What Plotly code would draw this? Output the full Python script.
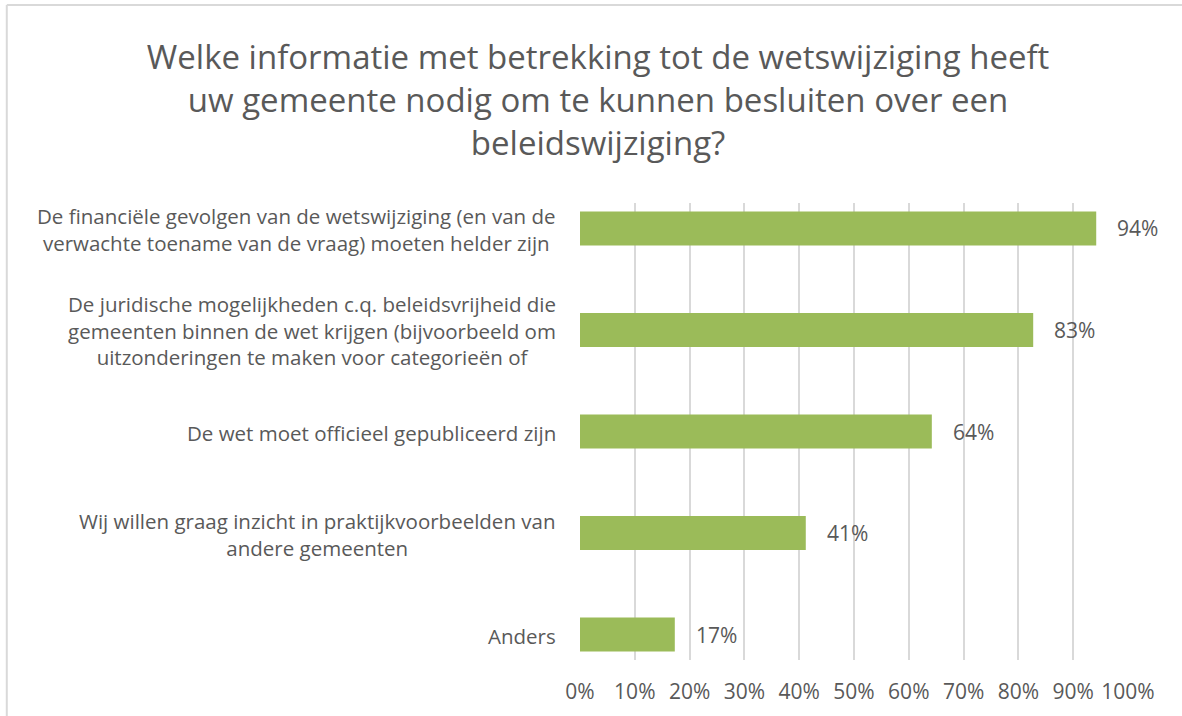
import plotly.graph_objects as go

title_text = ("Welke informatie met betrekking tot de wetswijziging heeft<br>"
              "uw gemeente nodig om te kunnen besluiten over een<br>"
              "beleidswijziging?")

categories = [
    "De financiële gevolgen van de wetswijziging (en van de<br>verwachte toename van de vraag) moeten helder zijn",
    "De juridische mogelijkheden c.q. beleidsvrijheid die<br>gemeenten binnen de wet krijgen (bijvoorbeeld om<br>uitzonderingen te maken voor categorieën of",
    "De wet moet officieel gepubliceerd zijn",
    "Wij willen graag inzicht in praktijkvoorbeelden van<br>andere gemeenten",
    "Anders",
]
values = [94.2, 82.7, 64.2, 41.2, 17.3]
value_labels = ["94%", "83%", "64%", "41%", "17%"]
tick_vals = [0, 10, 20, 30, 40, 50, 60, 70, 80, 90, 100]
tick_text = ["0%", "10%", "20%", "30%", "40%", "50%", "60%", "70%", "80%", "90%", "100%"]

FONT = "Open Sans"
TXT = "#595959"
BAR = "#9BBB59"

cat_ids = list(range(len(categories)))

fig = go.Figure()
fig.add_trace(go.Bar(
    x=values, y=cat_ids, orientation="h",
    marker=dict(color=BAR, line=dict(width=0)),
    width=0.335, hoverinfo="skip",
))

annotations = []
for i, (c, v, lab) in enumerate(zip(categories, values, value_labels)):
    annotations.append(dict(
        x=0, xref="paper", y=i, yref="y", text=c, showarrow=False,
        xanchor="right", yanchor="middle", align="center", xshift=-22, yshift=-1,
        font=dict(family=FONT, size=20.5, color=TXT),
    ))
    annotations.append(dict(
        x=v, xref="x", y=i, yref="y", text=lab, showarrow=False,
        xanchor="left", yanchor="middle", xshift=19,
        font=dict(family=FONT, size=21, color=TXT),
    ))

fig.update_layout(
    width=1182, height=716,
    margin=dict(l=580, r=54, t=203, b=56),
    paper_bgcolor="white", plot_bgcolor="white",
    title=dict(text=title_text, x=0.506, xanchor="center", y=0.904, yanchor="top",
               font=dict(family=FONT, size=33, color=TXT)),
    showlegend=False,
    annotations=annotations,
    xaxis=dict(range=[0, 100], tickvals=tick_vals, ticktext=tick_text,
               showgrid=True, gridcolor="#D9D9D9", gridwidth=1.5,
               zeroline=False, showline=False, ticks="",
               ticklabelstandoff=17,
               tickfont=dict(family=FONT, size=21, color=TXT), fixedrange=True),
    yaxis=dict(range=[4.25, -0.25], showticklabels=False, showgrid=False,
               zeroline=False, showline=False, fixedrange=True),
    shapes=[
        dict(type="line", xref="paper", yref="paper", x0=-1.046, x1=1.2, y0=1.4333, y1=1.4333,
             line=dict(color="#D9D9D9", width=2)),
        dict(type="line", xref="paper", yref="paper", x0=-1.046, x1=-1.046, y0=1.4333, y1=-0.2,
             line=dict(color="#D9D9D9", width=2)),
    ],
)

fig.write_html("out.html", config={"displayModeBar": False},
               post_script="document.body.style.margin='0';")
